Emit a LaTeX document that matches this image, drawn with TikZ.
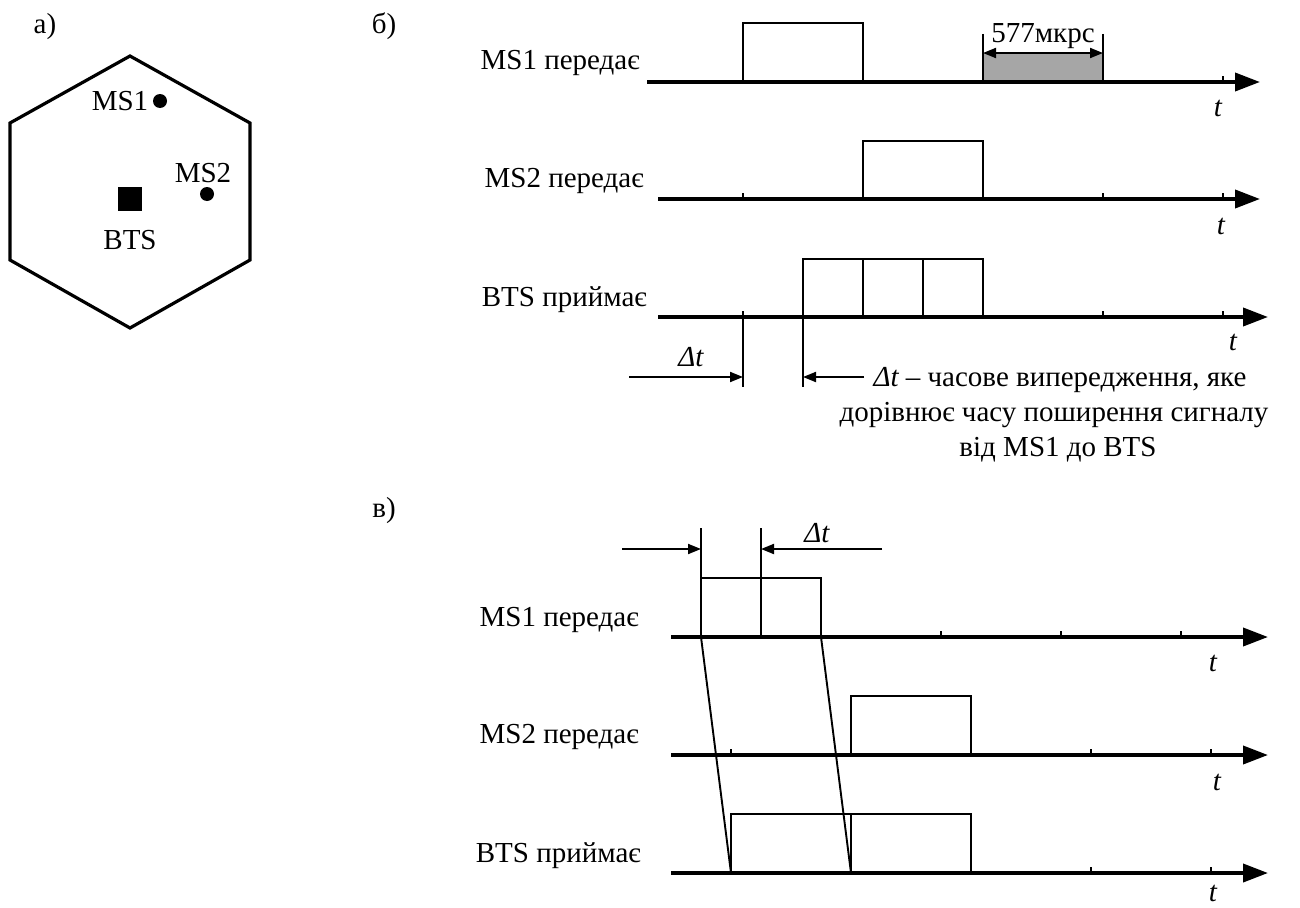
\documentclass[tikz,border=0pt]{standalone}
\usepackage{fontspec}
\setmainfont{Liberation Serif}
\usetikzlibrary{arrows.meta}
\definecolor{slotgray}{RGB}{166,166,166}
\begin{document}
\begin{tikzpicture}[x=1pt,y=-1pt, font=\fontsize{29}{35}\selectfont,
  axis/.style={line width=3.8pt,-{Triangle[length=25pt,width=18pt]}},
  pulse/.style={line width=2.8pt, line join=miter},
  thinl/.style={line width=1.9pt},
  dimarr/.style={line width=1.9pt,-{Triangle[length=13pt,width=10pt]}},
  dimboth/.style={line width=1.9pt,{Triangle[length=13pt,width=10pt]}-{Triangle[length=13pt,width=10pt]}},
  txt/.style={inner sep=0pt, anchor=base},
  rowlbl/.style={inner sep=0pt, anchor=base east},
  tl/.style={inner sep=0pt, font=\fontsize{29}{35}\selectfont\itshape}]
\useasboundingbox (0,0) rectangle (1300,907);

% ---------- a) ----------
\node[txt] (la) at (45,34) {а)};
\draw[line width=3.2pt, line join=miter] (130,56) -- (250,123) -- (250,260) -- (130,328) -- (10,260) -- (10,123) -- cycle;
\fill (160,101) circle (7pt);
\fill (207,194) circle (7pt);
\fill (118,187) rectangle (142,211);
\node[txt] (ms1) at (120,110) {MS1};
\node[txt] (ms2) at (203,182) {MS2};
\node[txt] (bts) at (130,249) {BTS};

% ---------- б) ----------
\node[txt] (lb) at (384,34) {б)};
% row 1
\fill[slotgray] (983,53) rectangle (1103,82);
\draw[axis] (647,82) -- (1260,82);
\draw[pulse] (743,82) -- (743,23) -- (863,23) -- (863,82);
\draw[thinl] (983,34) -- (983,82) (1103,34) -- (1103,82);
\coordinate (g1) at (983,53);
\coordinate (g2) at (1103,53);
\draw[dimboth] (g1) -- (g2);
\node[txt] (dur) at (1043,42) {577мкрс};
\draw[thinl] (1223,82) -- (1223,76);
\node[rowlbl] (b1) at (640,70) {MS1 передає};
\node[tl] (bt1) at (1218,108) {t};
% row 2
\draw[axis] (658,199) -- (1260,199);
\draw[pulse] (863,199) -- (863,141) -- (983,141) -- (983,199);
\draw[thinl] (743,199) -- (743,193) (1103,199) -- (1103,193) (1223,199) -- (1223,193);
\node[rowlbl] (b2) at (644,187) {MS2 передає};
\node[tl] (bt2) at (1221,226) {t};
% row 3
\draw[axis] (658,317) -- (1268,317);
\draw[pulse] (803,317) -- (803,259) -- (983,259) -- (983,317) (863,259) -- (863,317) (923,259) -- (923,317);
\draw[thinl] (1103,317) -- (1103,311) (1223,317) -- (1223,311);
\draw[thinl] (743,311) -- (743,387);
\draw[thinl] (803,317) -- (803,387);
\node[rowlbl] (b3) at (647,306) {BTS приймає};
\node[tl] (bt3) at (1233,342) {t};
\coordinate (a1s) at (629,377);
\coordinate (a1e) at (743,377);
\coordinate (a2s) at (864,377);
\coordinate (a2e) at (803,377);
\draw[dimarr] (a1s) -- (a1e);
\draw[dimarr] (a2s) -- (a2e);
\node[tl] (dt1) at (691,357) {Δt};
\node[txt] (n1) at (1060,386) {{\itshape Δt} – часове випередження, яке};
\node[txt] (n2) at (1054,421) {дорівнює часу поширення сигналу};
\node[txt] (n3) at (1058,456) {від MS1 до BTS};

% ---------- в) ----------
\node[txt] (lc) at (384,517) {в)};
% row 1
\draw[axis] (671,637) -- (1268,637);
\draw[pulse] (701,637) -- (701,578) -- (821,578) -- (821,637);
\draw[thinl] (701,528) -- (701,637) (761,528) -- (761,637);
\draw[thinl] (941,637) -- (941,631) (1061,637) -- (1061,631) (1181,637) -- (1181,631);
\node[rowlbl] (c1) at (639,626) {MS1 передає};
\node[tl] (ct1) at (1213,663) {t};
\coordinate (c1s) at (622,549);
\coordinate (c1e) at (701,549);
\coordinate (c2s) at (882,549);
\coordinate (c2e) at (761,549);
\draw[dimarr] (c1s) -- (c1e);
\draw[dimarr] (c2s) -- (c2e);
\node[tl] (dt2) at (817,533) {Δt};
% row 2
\draw[axis] (671,755) -- (1268,755);
\draw[pulse] (851,755) -- (851,696) -- (971,696) -- (971,755);
\draw[thinl] (731,755) -- (731,749) (1091,755) -- (1091,749) (1211,755) -- (1211,749);
\node[rowlbl] (c2) at (639,743) {MS2 передає};
\node[tl] (ct2) at (1217,782) {t};
% row 3
\draw[axis] (671,873) -- (1268,873);
\draw[pulse] (731,873) -- (731,814) -- (971,814) -- (971,873) (851,814) -- (851,873);
\draw[thinl] (1091,873) -- (1091,867) (1211,873) -- (1211,867);
\node[rowlbl] (c3) at (641,862) {BTS приймає};
\node[tl] (ct3) at (1213,893) {t};
% propagation lines
\draw[thinl] (701,637) -- (731,873);
\draw[thinl] (821,637) -- (851,873);
\end{tikzpicture}
\end{document}
